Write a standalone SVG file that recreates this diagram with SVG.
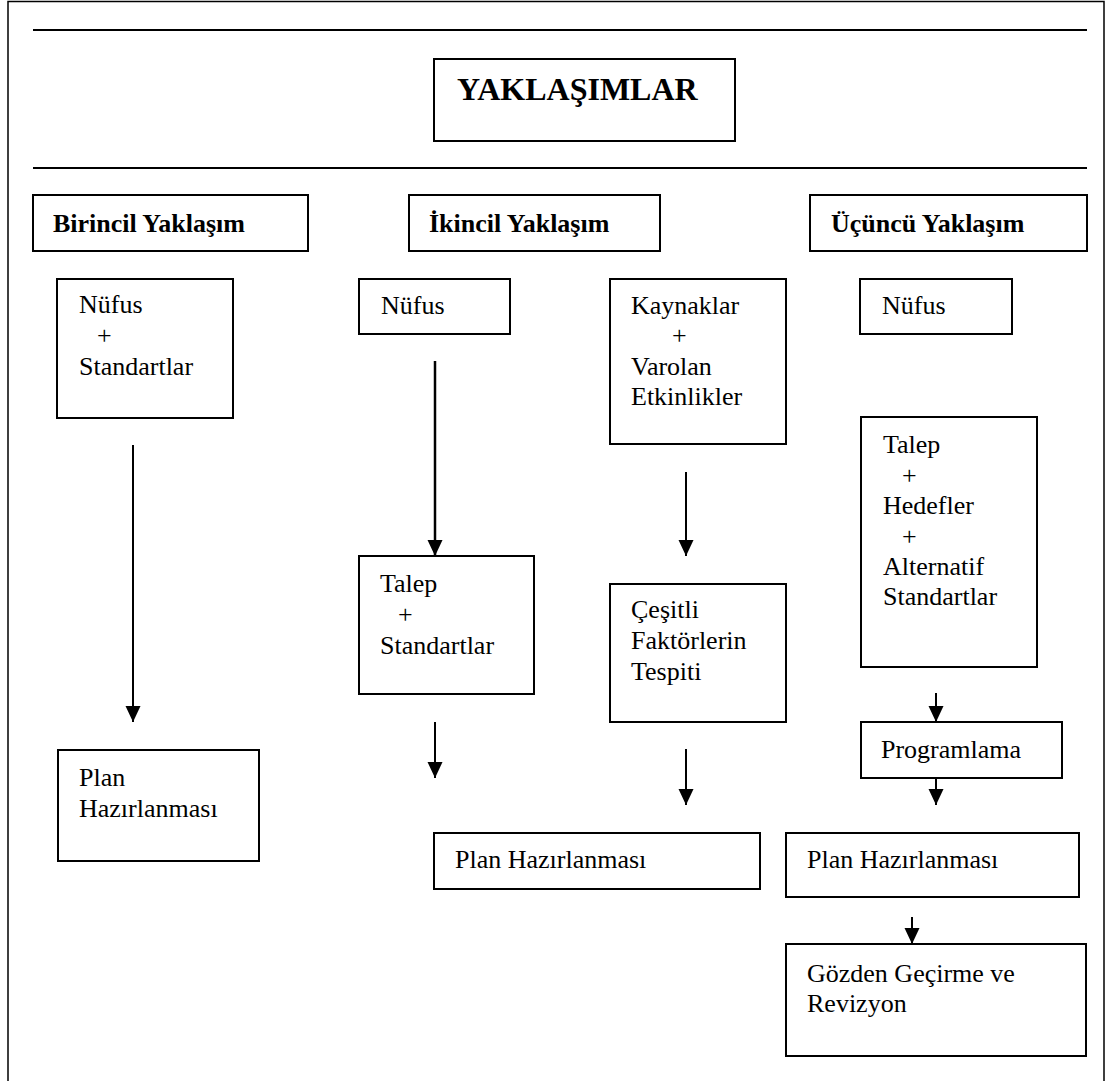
<svg xmlns="http://www.w3.org/2000/svg" width="1112" height="1081" viewBox="0 0 1112 1081">
<style>
.box{fill:#fff;stroke:#000;stroke-width:2}
.t{font-family:"Liberation Serif","Times New Roman",serif;font-size:26px;fill:#000}
.b{font-family:"Liberation Serif","Times New Roman",serif;font-size:26px;font-weight:bold;fill:#000}
.title{font-family:"Liberation Serif","Times New Roman",serif;font-size:32px;font-weight:bold;fill:#000}
.rule{stroke:#000;stroke-width:2.2}
.con{stroke:#000;stroke-width:2;fill:none;marker-end:url(#ah)}
</style>
<defs>
<marker id="ah" markerUnits="userSpaceOnUse" markerWidth="16" markerHeight="16" refX="16" refY="7.5" orient="auto">
<path d="M0,0 L16,7.5 L0,15 z" fill="#000"/>
</marker>
</defs>
<rect x="0" y="0" width="1112" height="1081" fill="#fff"/>
<g id="frame">
<path d="M8,1082 L8,1.5 L1104,1.5 L1104,1082" fill="none" stroke="#000" stroke-width="1.5"/>
<line class="rule" x1="33" y1="30" x2="1087" y2="30"/>
<line class="rule" x1="33" y1="168" x2="1087" y2="168"/>
</g>
<g id="yaklasimlar">
<rect class="box" x="434" y="59" width="301" height="82"/>
<text class="title" x="457" y="100">YAKLAŞIMLAR</text>
</g>
<g id="birincil">
<rect class="box" x="33" y="195" width="275" height="56"/>
<text class="b" x="53" y="232">Birincil Yaklaşım</text>
</g>
<g id="ikincil">
<rect class="box" x="409" y="195" width="251" height="56"/>
<text class="b" x="429" y="232">İkincil Yaklaşım</text>
</g>
<g id="ucuncu">
<rect class="box" x="810" y="195" width="277" height="56"/>
<text class="b" x="831" y="232">Üçüncü Yaklaşım</text>
</g>
<g id="n1">
<rect class="box" x="57" y="279" width="176" height="139"/>
<text class="t" x="79" y="313">Nüfus</text>
<text class="t" x="97" y="344">+</text>
<text class="t" x="79" y="375">Standartlar</text>
</g>
<g id="plan1">
<rect class="box" x="58" y="750" width="201" height="111"/>
<text class="t" x="79" y="786">Plan</text>
<text class="t" x="79" y="817">Hazırlanması</text>
</g>
<g id="n2">
<rect class="box" x="359" y="279" width="151" height="55"/>
<text class="t" x="381" y="314">Nüfus</text>
</g>
<g id="talep2">
<rect class="box" x="359" y="556" width="175" height="138"/>
<text class="t" x="380" y="592">Talep</text>
<text class="t" x="398" y="623">+</text>
<text class="t" x="380" y="654">Standartlar</text>
</g>
<g id="kaynaklar">
<rect class="box" x="610" y="279" width="176" height="165"/>
<text class="t" x="631" y="314">Kaynaklar</text>
<text class="t" x="672" y="344">+</text>
<text class="t" x="631" y="375">Varolan</text>
<text class="t" x="631" y="405">Etkinlikler</text>
</g>
<g id="cesitli">
<rect class="box" x="610" y="584" width="176" height="138"/>
<text class="t" x="631" y="618">Çeşitli</text>
<text class="t" x="631" y="649">Faktörlerin</text>
<text class="t" x="631" y="680">Tespiti</text>
</g>
<g id="plan2">
<rect class="box" x="434" y="833" width="326" height="56"/>
<text class="t" x="455" y="868">Plan Hazırlanması</text>
</g>
<g id="n3">
<rect class="box" x="860" y="279" width="152" height="55"/>
<text class="t" x="882" y="314">Nüfus</text>
</g>
<g id="talep3">
<rect class="box" x="861" y="417" width="176" height="250"/>
<text class="t" x="883" y="453">Talep</text>
<text class="t" x="902" y="484">+</text>
<text class="t" x="883" y="514">Hedefler</text>
<text class="t" x="902" y="545">+</text>
<text class="t" x="883" y="575">Alternatif</text>
<text class="t" x="883" y="605">Standartlar</text>
</g>
<g id="programlama">
<rect class="box" x="861" y="722" width="201" height="56"/>
<text class="t" x="881" y="758">Programlama</text>
</g>
<g id="plan3">
<rect class="box" x="786" y="833" width="293" height="64"/>
<text class="t" x="807" y="868">Plan Hazırlanması</text>
</g>
<g id="gozden">
<rect class="box" x="786" y="944" width="300" height="112"/>
<text class="t" x="807" y="982">Gözden Geçirme ve</text>
<text class="t" x="807" y="1012">Revizyon</text>
</g>
<g id="connectors">
<line class="con" x1="133" y1="445" x2="133" y2="722"/>
<line class="con" x1="435" y1="361" x2="435" y2="556" style="stroke-width:2.5"/>
<line class="con" x1="435" y1="722" x2="435" y2="778"/>
<line class="con" x1="686" y1="472" x2="686" y2="556"/>
<line class="con" x1="686" y1="749" x2="686" y2="805"/>
<line class="con" x1="936" y1="693" x2="936" y2="722"/>
<line class="con" x1="936" y1="778" x2="936" y2="805"/>
<line class="con" x1="912" y1="917" x2="912" y2="944"/>
</g>
</svg>
